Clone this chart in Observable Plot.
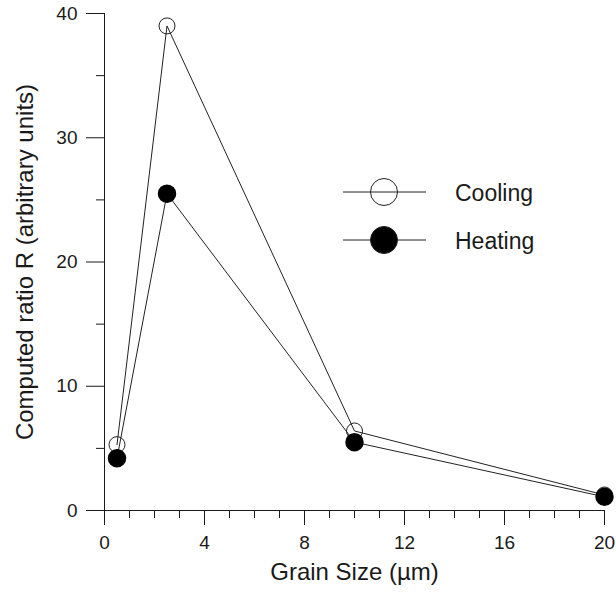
<!DOCTYPE html>
<html>
<head>
<meta charset="utf-8">
<script src="https://cdn.jsdelivr.net/npm/d3@7"></script>
<script src="https://cdn.jsdelivr.net/npm/@observablehq/plot@0.6"></script>
<style>
  body { margin: 0; background: #fff; }
  #wrap { position: relative; width: 616px; height: 593px; font-family: "Liberation Sans", Arial, Helvetica, sans-serif; }
  #legend { position: absolute; left: 0; top: 0; pointer-events: none; }
</style>
</head>
<body>
<div id="wrap"></div>
<script>
// Data
const grainSize = [0.5, 2.5, 10, 20];
const cooling = [5.3, 39.0, 6.4, 1.25];
const heating = [4.2, 25.5, 5.5, 1.1];
const seriesNames = ["Cooling", "Heating"];
const xMajorTicks = [0, 4, 8, 12, 16, 20];
const xMinorTicks = [1, 2, 3, 5, 6, 7, 9, 10, 11, 13, 14, 15, 17, 18, 19];
const yMajorTicks = [0, 10, 20, 30, 40];
const yMinorTicks = [5, 15, 25, 35];
const xLabel = "Grain Size (µm)";
const yLabel = "Computed ratio R (arbitrary units)";

const coolData = grainSize.map((x, i) => ({x, y: cooling[i]}));
const heatData = grainSize.map((x, i) => ({x, y: heating[i]}));

const ink = "#1a1a1a";
const font = "Liberation Sans, Arial, Helvetica, sans-serif";

const plot = Plot.plot({
  width: 616,
  height: 593,
  marginTop: 13,
  marginRight: 12,
  marginBottom: 83,
  marginLeft: 104,
  style: {fontFamily: font, color: ink, background: "white", overflow: "visible"},
  x: {domain: [0, 20]},
  y: {domain: [0, 40]},
  marks: [
    Plot.axisY({ticks: yMajorTicks, tickSize: 18, tickPadding: 9, fontSize: 19, label: null, stroke: ink, fill: ink}),
    Plot.axisY({ticks: yMinorTicks, tickSize: 8, fill: "none", label: null, stroke: ink}),
    Plot.axisX({ticks: xMajorTicks, tickSize: 15, tickPadding: 10, fontSize: 19, label: null, stroke: ink, fill: ink}),
    Plot.axisX({ticks: xMinorTicks, tickSize: 8, fill: "none", label: null, stroke: ink}),
    Plot.ruleX([0], {stroke: ink, strokeWidth: 1}),
    Plot.ruleY([0], {stroke: ink, strokeWidth: 1}),
    Plot.line(coolData, {x: "x", y: "y", stroke: "#222", strokeWidth: 1}),
    Plot.line(heatData, {x: "x", y: "y", stroke: "#222", strokeWidth: 1}),
    Plot.dot(coolData, {x: "x", y: "y", r: 8, fill: "none", stroke: "#222", strokeWidth: 1}),
    Plot.dot(heatData, {x: "x", y: "y", r: 8.5, fill: "#000", stroke: "#000"}),
    Plot.text([xLabel], {text: d => d, frameAnchor: "bottom", dy: 69, fontSize: 24, fill: ink}),
    Plot.text([yLabel], {text: d => d, frameAnchor: "left", textAnchor: "middle", lineAnchor: "middle", rotate: -90, dx: -79, fontSize: 24, fill: ink})
  ]
});

const wrap = document.getElementById("wrap");
wrap.appendChild(plot);

// Legend overlay
const leg = d3.select(wrap).append("svg")
  .attr("id", "legend")
  .attr("width", 616).attr("height", 593);
const items = [
  {name: seriesNames[0], fill: "none", y: 192},
  {name: seriesNames[1], fill: "#000", y: 240}
];
items.forEach(it => {
  const g = leg.append("g");
  g.append("line").attr("x1", 343).attr("x2", 426).attr("y1", it.y).attr("y2", it.y)
    .attr("stroke", "#222").attr("stroke-width", 1);
  g.append("circle").attr("cx", 384).attr("cy", it.y).attr("r", 13.5)
    .attr("fill", it.fill).attr("stroke", "#222").attr("stroke-width", 1);
  g.append("text").attr("x", 455).attr("y", it.y + 9)
    .attr("font-family", font).attr("font-size", 23).attr("fill", ink)
    .text(it.name);
});
</script>
</body>
</html>
